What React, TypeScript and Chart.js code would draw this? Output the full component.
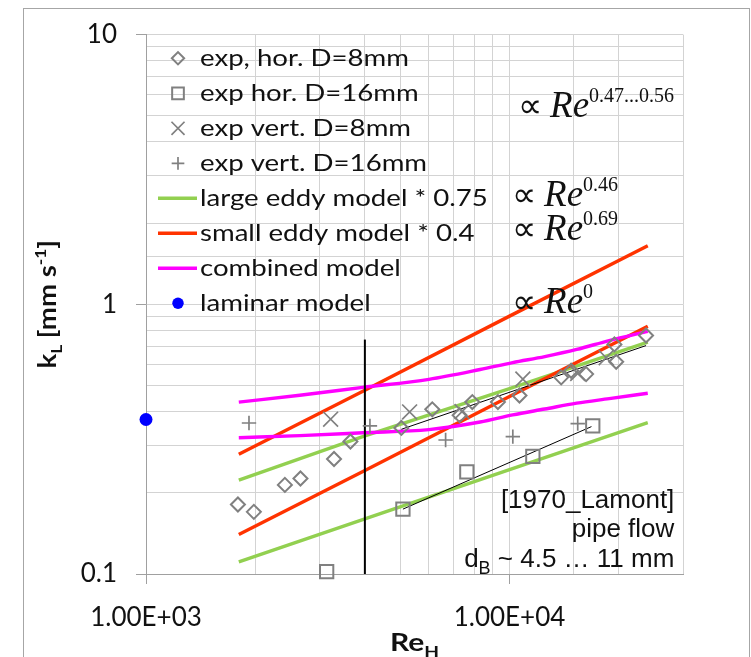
import React, { useEffect, useRef } from 'react';
import { Chart, registerables } from 'chart.js';

Chart.register(...registerables);

// ---------- data ----------
const EXP_HOR_8_RE = [1790, 1980, 2410, 2660, 3290, 3650, 5040, 6130, 7290, 7900, 9290, 10650, 13870, 14770, 16240, 19430, 19650, 23740];
const EXP_HOR_8_KL = [0.181, 0.170, 0.214, 0.226, 0.267, 0.310, 0.348, 0.408, 0.388, 0.434, 0.434, 0.459, 0.536, 0.567, 0.551, 0.710, 0.612, 0.766];

const EXP_HOR_16_RE = [3140, 5090, 7630, 11590, 16940];
const EXP_HOR_16_KL = [0.102, 0.174, 0.239, 0.273, 0.354];

const EXP_VERT_8_RE = [3220, 5310, 7400, 10880, 15400, 18440];
const EXP_VERT_8_KL = [0.375, 0.399, 0.400, 0.528, 0.554, 0.634];

const EXP_VERT_16_RE = [1920, 4130, 6670, 10210, 15400];
const EXP_VERT_16_KL = [0.363, 0.354, 0.314, 0.323, 0.361];

const MODEL_RE = [1800, 4000, 10000, 24000];
const LARGE_EDDY_HI = [0.223, 0.325, 0.487, 0.724];
const LARGE_EDDY_LO = [0.111, 0.160, 0.244, 0.364];
const SMALL_EDDY_HI = [0.278, 0.480, 0.904, 1.649];
const SMALL_EDDY_LO = [0.140, 0.242, 0.455, 0.829];

const COMBINED_RE = [1800, 2650, 3950, 6000, 8300, 10200, 12500, 15300, 18800, 24000];
const COMBINED_HI = [0.434, 0.460, 0.492, 0.527, 0.573, 0.608, 0.640, 0.680, 0.734, 0.794];
const COMBINED_LO = [0.320, 0.326, 0.334, 0.343, 0.366, 0.389, 0.409, 0.430, 0.447, 0.468];

const LAMINAR_RE = [1000];
const LAMINAR_KL = [0.374];

const TREND_8_RE = [5040, 23740];
const TREND_8_KL = [0.344, 0.703];
const TREND_16_RE = [5090, 16800];
const TREND_16_KL = [0.174, 0.352];

const TRANSITION_RE = [4000, 4000];
const TRANSITION_KL = [0.1, 0.74];

const LEGEND_LABELS = [
  'exp, hor. D=8mm',
  'exp hor. D=16mm',
  'exp vert. D=8mm',
  'exp vert. D=16mm',
  'large eddy model * 0.75',
  'small eddy model * 0.4',
  'combined model',
  'laminar model',
];

const EXPONENT_LABELS = ['0.47...0.56', '0.46', '0.69', '0'];
const EXPONENT_ANCHOR_RE = [10520, 10130, 10130, 10130];
const EXPONENT_ANCHOR_KL = [4.94, 2.32, 1.73, 0.927];

const SOURCE_LINES = ['[1970_Lamont]', 'pipe flow'];
const SOURCE_SIZE_LINE = ['d', 'B', ' ~ 4.5 \u2026 11 mm'];
const SOURCE_ANCHOR_RE = 28400;
const SOURCE_ANCHOR_KL = [0.1764, 0.137, 0.1063];

const X_TITLE = ['Re', 'H'];
const Y_TITLE = ['k', 'L', ' [mm s', '-1', ']'];

// ---------- styles ----------
const GRAY = '#808080';
const GREEN = '#92d050';
const RED = '#ff3300';
const MAGENTA = '#ff00ff';
const BLUE = '#0000ff';
const GRID = '#d3d3d3';
const AXIS = '#a0a0a0';
const TEXT = '#111111';
const SANS = 'Lato';

const zip = (xs: number[], ys: number[]) => xs.map((x, i) => ({ x, y: ys[i] }));

const isPow10 = (v: number) => {
  if (!(v > 0)) return false;
  const l = Math.log10(v);
  return Math.abs(l - Math.round(l)) < 1e-9;
};

const fmtExp = (v: number) => {
  const [m, e] = v.toExponential(2).split('e');
  return m + 'E' + e[0] + e.slice(1).padStart(2, '0');
};

const marker = (label: string, data: any[], style: string, r: number, w: number) => ({
  label,
  data,
  showLine: false,
  pointStyle: style,
  pointRadius: r,
  pointBorderColor: GRAY,
  pointBackgroundColor: 'rgba(0,0,0,0)',
  pointBorderWidth: w,
  borderColor: GRAY,
  backgroundColor: 'rgba(0,0,0,0)',
  clip: false,
  legend: true,
});

const line = (label: string, data: any[], color: string, width: number, legend: boolean, smooth = false) => ({
  label,
  data,
  showLine: true,
  pointRadius: 0,
  borderColor: color,
  backgroundColor: color,
  borderWidth: width,
  cubicInterpolationMode: smooth ? 'monotone' : 'default',
  tension: 0,
  clip: false,
  legend,
});

function drawMarker(ctx: CanvasRenderingContext2D, style: string, x: number, y: number, r: number, stroke: string, fill: string, lw: number) {
  ctx.save();
  ctx.strokeStyle = stroke;
  ctx.fillStyle = fill;
  ctx.lineWidth = lw;
  ctx.beginPath();
  if (style === 'rectRot') {
    ctx.moveTo(x - r, y);
    ctx.lineTo(x, y - r);
    ctx.lineTo(x + r, y);
    ctx.lineTo(x, y + r);
    ctx.closePath();
    ctx.stroke();
  } else if (style === 'rect') {
    const s = r * Math.SQRT1_2;
    ctx.rect(x - s, y - s, 2 * s, 2 * s);
    ctx.stroke();
  } else if (style === 'cross') {
    ctx.moveTo(x, y - r);
    ctx.lineTo(x, y + r);
    ctx.moveTo(x - r, y);
    ctx.lineTo(x + r, y);
    ctx.stroke();
  } else if (style === 'crossRot') {
    const d = r * Math.SQRT1_2;
    ctx.moveTo(x - d, y - d);
    ctx.lineTo(x + d, y + d);
    ctx.moveTo(x - d, y + d);
    ctx.lineTo(x + d, y - d);
    ctx.stroke();
  } else {
    ctx.arc(x, y, r, 0, Math.PI * 2);
    ctx.fill();
  }
  ctx.restore();
}

type Piece = { t: string; font: string; dy?: number };

function drawRich(ctx: CanvasRenderingContext2D, pieces: Piece[], x: number, y: number, align: 'left' | 'center' | 'right', sx = 1) {
  ctx.save();
  ctx.textBaseline = 'alphabetic';
  ctx.textAlign = 'left';
  const widths = pieces.map((p) => {
    ctx.font = p.font;
    return ctx.measureText(p.t).width * sx;
  });
  const total = widths.reduce((a, b) => a + b, 0);
  let cx = align === 'center' ? x - total / 2 : align === 'right' ? x - total : x;
  pieces.forEach((p, i) => {
    ctx.save();
    ctx.font = p.font;
    ctx.translate(cx, y + (p.dy || 0));
    ctx.scale(sx, 1);
    ctx.fillText(p.t, 0, 0);
    ctx.restore();
    cx += widths[i];
  });
  ctx.restore();
}

const framePlugin = {
  id: 'frame',
  beforeDraw(chart: any) {
    const { ctx } = chart;
    ctx.save();
    ctx.strokeStyle = '#a6a6a6';
    ctx.lineWidth = 1;
    ctx.strokeRect(23.5, 8.5, 726, 700);
    ctx.restore();
  },
};

function drawOverlay(chart: any, legendSets: any[]) {
  const { ctx, chartArea } = chart;
  const xs = chart.scales.x;
  const ys = chart.scales.y;
  ctx.save();
  ctx.fillStyle = TEXT;

  // legend
  legendSets.forEach((ds: any, i: number) => {
    const y = chartArea.top + 23.7 + i * 35;
    const left = chartArea.left;
    if (ds.showLine) {
      ctx.save();
      ctx.strokeStyle = ds.borderColor;
      ctx.lineWidth = ds.borderWidth;
      ctx.beginPath();
      ctx.moveTo(left + 12, y);
      ctx.lineTo(left + 51, y);
      ctx.stroke();
      ctx.restore();
    } else {
      drawMarker(ctx, ds.pointStyle, left + 32, y, ds.pointRadius * 0.88, ds.pointBorderColor, ds.pointBackgroundColor, ds.pointBorderWidth);
    }
    ctx.fillStyle = TEXT;
    drawRich(ctx, [{ t: ds.label, font: `23px ${SANS}` }], left + 54, y + 8, 'left', 1.2);
  });

  // exponent annotations
  EXPONENT_LABELS.forEach((lab, i) => {
    const x = xs.getPixelForValue(EXPONENT_ANCHOR_RE[i]);
    const y = ys.getPixelForValue(EXPONENT_ANCHOR_KL[i]);
    drawRich(ctx, [
      { t: '\u221D ', font: `34px 'Liberation Serif'` },
      { t: 'Re', font: `italic 37px 'Liberation Serif'` },
      { t: lab, font: `20px 'Liberation Serif'`, dy: -15 },
    ], x, y, 'left');
  });

  // source text box
  const rx = xs.getPixelForValue(SOURCE_ANCHOR_RE);
  SOURCE_LINES.forEach((t, i) => {
    drawRich(ctx, [{ t, font: `26px 'Liberation Sans'` }], rx, ys.getPixelForValue(SOURCE_ANCHOR_KL[i]), 'right');
  });
  drawRich(ctx, [
    { t: SOURCE_SIZE_LINE[0], font: `26px 'Liberation Sans'` },
    { t: SOURCE_SIZE_LINE[1], font: `18px 'Liberation Sans'`, dy: 7 },
    { t: SOURCE_SIZE_LINE[2], font: `26px 'Liberation Sans'` },
  ], rx, ys.getPixelForValue(SOURCE_ANCHOR_KL[2]), 'right');

  // axis titles
  const cx = (chartArea.left + chartArea.right) / 2;
  drawRich(ctx, [
    { t: X_TITLE[0], font: `bold 25px ${SANS}` },
    { t: X_TITLE[1], font: `bold 16px ${SANS}`, dy: 6 },
  ], cx, chartArea.bottom + 77, 'center', 1.2);

  const cy = (chartArea.top + chartArea.bottom) / 2;
  ctx.save();
  ctx.translate(chartArea.left - 90, cy);
  ctx.rotate(-Math.PI / 2);
  drawRich(ctx, [
    { t: Y_TITLE[0], font: `bold 24px ${SANS}` },
    { t: Y_TITLE[1], font: `bold 15px ${SANS}`, dy: 6 },
    { t: Y_TITLE[2], font: `bold 24px ${SANS}` },
    { t: Y_TITLE[3], font: `bold 15px ${SANS}`, dy: -10 },
    { t: Y_TITLE[4], font: `bold 24px ${SANS}` },
  ], 0, 0, 'center', 1.15);
  ctx.restore();

  ctx.restore();
}

const overlayPlugin = {
  id: 'overlay',
  afterDatasetsDraw(chart: any) {
    const sets = chart.data.datasets
      .filter((d: any) => d.legend)
      .sort((a: any, b: any) => a.legendRank - b.legendRank);
    drawOverlay(chart, sets);
  },
};

export default function App() {
  const ref = useRef<HTMLCanvasElement>(null);

  useEffect(() => {
    document.body.style.margin = '0';
    document.body.style.overflow = 'hidden';
    const canvas = ref.current;
    if (!canvas) return;

    const datasets: any[] = [
      marker(LEGEND_LABELS[0], zip(EXP_HOR_8_RE, EXP_HOR_8_KL), 'rectRot', 7, 2),
      marker(LEGEND_LABELS[1], zip(EXP_HOR_16_RE, EXP_HOR_16_KL), 'rect', 9.4, 2),
      marker(LEGEND_LABELS[2], zip(EXP_VERT_8_RE, EXP_VERT_8_KL), 'crossRot', 10.5, 1.7),
      marker(LEGEND_LABELS[3], zip(EXP_VERT_16_RE, EXP_VERT_16_KL), 'cross', 7.2, 1.7),
      line('_trend8', zip(TREND_8_RE, TREND_8_KL), '#000000', 1, false),
      line('_trend16', zip(TREND_16_RE, TREND_16_KL), '#000000', 1, false),
      line('_transition', zip(TRANSITION_RE, TRANSITION_KL), '#000000', 2, false),
      line(LEGEND_LABELS[6], zip(COMBINED_RE, COMBINED_HI), MAGENTA, 3.4, true, true),
      line('_combinedLo', zip(COMBINED_RE, COMBINED_LO), MAGENTA, 3.4, false, true),
      line(LEGEND_LABELS[5], zip(MODEL_RE, SMALL_EDDY_HI), RED, 3.4, true),
      line('_smallLo', zip(MODEL_RE, SMALL_EDDY_LO), RED, 3.4, false),
      line(LEGEND_LABELS[4], zip(MODEL_RE, LARGE_EDDY_HI), GREEN, 3.4, true),
      line('_largeLo', zip(MODEL_RE, LARGE_EDDY_LO), GREEN, 3.4, false),
      {
        label: LEGEND_LABELS[7],
        data: zip(LAMINAR_RE, LAMINAR_KL),
        showLine: false,
        pointStyle: 'circle',
        pointRadius: 6.5,
        pointBorderWidth: 0,
        pointBorderColor: BLUE,
        pointBackgroundColor: BLUE,
        borderColor: BLUE,
        backgroundColor: BLUE,
        clip: false,
        legend: true,
      },
    ];

    // legend order: markers, large eddy, small eddy, combined, laminar
    const legendOrder = [0, 1, 2, 3, 11, 9, 7, 13];
    legendOrder.forEach((idx, k) => {
      datasets[idx].legendRank = k;
    });

    const chart = new Chart(canvas, {
      type: 'scatter',
      data: { datasets },
      plugins: [framePlugin, overlayPlugin],
      options: {
        responsive: false,
        animation: false,
        events: [],
        layout: { padding: { top: 28, right: 68, left: 0, bottom: 0 } },
        plugins: {
          legend: { display: false },
          tooltip: { enabled: false },
        },
        scales: {
          x: {
            type: 'logarithmic',
            position: 'bottom',
            min: 1000,
            max: 30000,
            afterFit: (s: any) => {
              s.height = 83;
            },
            border: { color: AXIS, width: 1 },
            grid: {
              color: GRID,
              lineWidth: 1,
              drawTicks: true,
              tickLength: 10,
              tickColor: (c: any) => (c.tick && isPow10(c.tick.value) ? AXIS : 'rgba(0,0,0,0)'),
            },
            ticks: {
              autoSkip: false,
              maxRotation: 0,
              minRotation: 0,
              padding: 18,
              color: TEXT,
              font: { family: SANS, size: 26 },
              callback: (v: any) => (isPow10(Number(v)) ? fmtExp(Number(v)) : ''),
            },
          },
          y: {
            type: 'logarithmic',
            position: 'left',
            min: 0.1,
            max: 10,
            afterFit: (s: any) => {
              s.width = 146;
            },
            border: { color: AXIS, width: 1 },
            grid: {
              color: GRID,
              lineWidth: 1,
              drawTicks: true,
              tickLength: 10,
              tickColor: (c: any) => (c.tick && isPow10(c.tick.value) ? AXIS : 'rgba(0,0,0,0)'),
            },
            ticks: {
              autoSkip: false,
              padding: 19,
              color: TEXT,
              font: { family: SANS, size: 26 },
              callback: (v: any) => (isPow10(Number(v)) ? String(Number(Number(v).toPrecision(6))) : ''),
            },
          },
        },
      } as any,
    });

    return () => chart.destroy();
  }, []);

  return (
    <div style={{ width: 751, height: 657, background: '#ffffff' }}>
      <canvas ref={ref} width={751} height={657} style={{ display: 'block', width: 751, height: 657 }} />
    </div>
  );
}
